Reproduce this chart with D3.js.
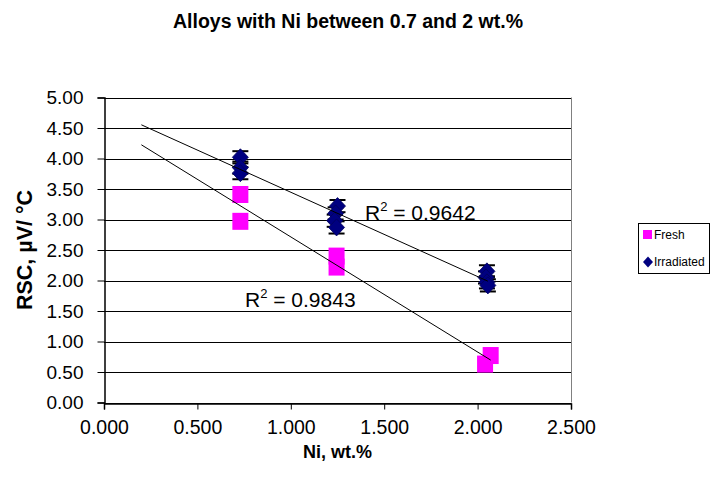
<!DOCTYPE html>
<html>
<head>
<meta charset="utf-8">
<script src="https://cdn.jsdelivr.net/npm/d3@7"></script>
<style>
  body { margin: 0; background: #fff; }
  svg { font-family: "Liberation Sans", Arial, sans-serif; }
</style>
</head>
<body>
<svg id="chart" width="710" height="493"></svg>
<script>
// Fresh alloys
const FRESH_NI = [0.73, 0.73, 1.245, 1.245, 2.04, 2.07];
const FRESH_RSC = [3.41, 2.97, 2.40, 2.22, 0.63, 0.77];

// Irradiated alloys
const IRR_NI = [0.73, 0.73, 0.73, 1.25, 1.24, 1.235, 1.245, 2.05, 2.045, 2.05, 2.055];
const IRR_RSC = [4.02, 3.85, 3.76, 3.22, 3.10, 2.98, 2.87, 2.15, 2.05, 1.97, 1.92];
const IRR_ERR = [0.1, 0.1, 0.1, 0.1, 0.1, 0.1, 0.1, 0.1, 0.1, 0.1, 0.1];

const X_TICKS = [0, 0.5, 1, 1.5, 2, 2.5];
const Y_TICKS = [0, 0.5, 1, 1.5, 2, 2.5, 3, 3.5, 4, 4.5, 5];

const TREND_FROM = 0.2;
const R2_FRESH = "0.9843";
const R2_IRR = "0.9642";

const PINK = "#ff00ff";
const NAVY = "#000080";

const svg = d3.select("#chart");
const margin = { top: 97.5, right: 139, bottom: 90.5, left: 104 };
const width = 710, height = 493;

const x = d3.scaleLinear().domain([0, 2.5]).range([margin.left, width - margin.right]);
const y = d3.scaleLinear().domain([0, 5]).range([height - margin.bottom, margin.top]);

const fresh = FRESH_NI.map((v, i) => ({ x: v, y: FRESH_RSC[i] }));
const irr = IRR_NI.map((v, i) => ({ x: v, y: IRR_RSC[i], e: IRR_ERR[i] }));

// least squares trend line
const fit = pts => {
  const mx = d3.mean(pts, d => d.x), my = d3.mean(pts, d => d.y);
  const sxy = d3.sum(pts, d => (d.x - mx) * (d.y - my));
  const sxx = d3.sum(pts, d => (d.x - mx) ** 2);
  const b = sxy / sxx;
  return { b: b, a: my - b * mx, x1: d3.max(pts, d => d.x) };
};

// gridlines
svg.append("g")
  .selectAll("line")
  .data(Y_TICKS)
  .join("line")
  .attr("x1", x(0)).attr("x2", x(2.5))
  .attr("y1", d => Math.round(y(d)) + 0.5).attr("y2", d => Math.round(y(d)) + 0.5)
  .attr("stroke", "#000").attr("stroke-width", 1);

// plot border (right side)
svg.append("line")
  .attr("x1", x(2.5) + 0.5).attr("x2", x(2.5) + 0.5)
  .attr("y1", y(5)).attr("y2", y(0))
  .attr("stroke", "#808080");

// axes
const xAxis = g => g
  .attr("transform", `translate(0,${Math.round(y(0)) + 0.5})`)
  .call(d3.axisBottom(x).tickValues(X_TICKS).tickFormat(d3.format(".3f")).tickSizeOuter(0).tickSize(6).tickPadding(11))
  .call(g => g.selectAll("text").attr("font-size", 19.5).attr("fill", "#000"));

const yAxis = g => g
  .attr("transform", `translate(${margin.left + 0.5},0)`)
  .call(d3.axisLeft(y).tickValues(Y_TICKS).tickFormat(d3.format(".2f")).tickSizeOuter(0).tickSize(7).tickPadding(14))
  .call(g => g.selectAll("text").attr("font-size", 19).attr("fill", "#000"));

svg.append("g").call(xAxis).attr("font-family", null);
svg.append("g").call(yAxis).attr("font-family", null);
svg.selectAll(".domain").attr("stroke", "#000").attr("stroke-width", 1.5);

// fresh markers
svg.append("g")
  .selectAll("rect")
  .data(fresh)
  .join("rect")
  .attr("x", d => x(d.x) - 8)
  .attr("y", d => y(d.y) - 8.5)
  .attr("width", 16).attr("height", 17)
  .attr("fill", PINK);

// irradiated error bars
const eb = svg.append("g").attr("stroke", "#000").attr("stroke-width", 2);
eb.selectAll(".v")
  .data(irr)
  .join("line")
  .attr("x1", d => x(d.x)).attr("x2", d => x(d.x))
  .attr("y1", d => y(d.y - d.e)).attr("y2", d => y(d.y + d.e));
eb.selectAll(".cap")
  .data(irr.flatMap(d => [d.y - d.e, d.y + d.e].map(v => ({ x: d.x, y: v }))))
  .join("line")
  .attr("x1", d => x(d.x) - 8).attr("x2", d => x(d.x) + 8)
  .attr("y1", d => y(d.y)).attr("y2", d => y(d.y));

// irradiated markers
svg.append("g")
  .selectAll("path")
  .data(irr)
  .join("path")
  .attr("transform", d => `translate(${x(d.x)},${y(d.y)})`)
  .attr("d", "M0,-8.5L8,0L0,8.5L-8,0Z")
  .attr("fill", NAVY)
  .attr("stroke", "#00005a").attr("stroke-width", 0.8);

// trend lines
[fit(fresh), fit(irr)].forEach(f => {
  svg.append("line")
    .attr("x1", x(TREND_FROM)).attr("y1", y(f.a + f.b * TREND_FROM))
    .attr("x2", x(f.x1)).attr("y2", y(f.a + f.b * f.x1))
    .attr("stroke", "#000").attr("stroke-width", 1);
});

// R² labels
const r2 = (px, py, val) => {
  const t = svg.append("text").attr("x", px).attr("y", py).attr("font-size", 21);
  t.append("tspan").text("R");
  t.append("tspan").attr("font-size", 13).attr("dy", -9).text("2");
  t.append("tspan").attr("dy", 9).text(" = " + val);
};
r2(365, 220, R2_IRR);
r2(245, 307, R2_FRESH);

// titles
svg.append("text")
  .attr("x", 348).attr("y", 28)
  .attr("text-anchor", "middle")
  .attr("font-size", 19.5).attr("font-weight", "bold")
  .text("Alloys with Ni between 0.7 and 2 wt.%");

svg.append("text")
  .attr("x", (x(0) + x(2.5)) / 2).attr("y", 458)
  .attr("text-anchor", "middle")
  .attr("font-size", 18).attr("font-weight", "bold")
  .text("Ni, wt.%");

svg.append("text")
  .attr("transform", `translate(32,${(y(0) + y(5)) / 2}) rotate(-90)`)
  .attr("text-anchor", "middle")
  .attr("font-size", 21.5).attr("font-weight", "bold")
  .text("RSC, µV/ °C");

// legend
const lg = svg.append("g");
lg.append("rect")
  .attr("x", 638.5).attr("y", 223.5)
  .attr("width", 71).attr("height", 50)
  .attr("fill", "#fff").attr("stroke", "#000");
lg.append("rect")
  .attr("x", 643).attr("y", 230).attr("width", 9).attr("height", 9)
  .attr("fill", PINK);
lg.append("path")
  .attr("transform", "translate(648,262)")
  .attr("d", "M0,-5.5L5,0L0,5.5L-5,0Z")
  .attr("fill", NAVY);
lg.append("text").attr("x", 654).attr("y", 239).attr("font-size", 12).text("Fresh");
lg.append("text").attr("x", 654).attr("y", 266).attr("font-size", 12).text("Irradiated");
</script>
</body>
</html>
